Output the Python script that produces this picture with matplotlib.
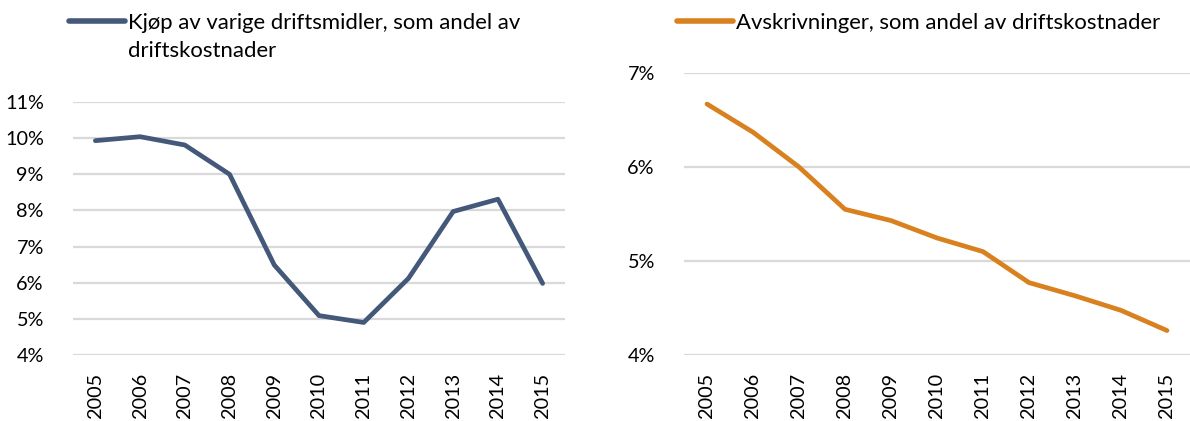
import numpy as np
import matplotlib.pyplot as plt
from matplotlib.lines import Line2D
from matplotlib.ticker import FuncFormatter

years = ['2005', '2006', '2007', '2008', '2009', '2010',
         '2011', '2012', '2013', '2014', '2015']

# percent
kjop = [9.93, 10.04, 9.81, 9.00, 6.49, 5.09, 4.90, 6.12, 7.97, 8.31, 5.98]
avskr = [6.67, 6.37, 6.00, 5.55, 5.43, 5.245, 5.10, 4.77, 4.63, 4.475, 4.26]

label_kjop = 'Kjøp av varige driftsmidler, som andel av\ndriftskostnader'
label_avskr = 'Avskrivninger, som andel av driftskostnader'

blue = '#44597A'
orange = '#D9801F'
grid_col = '#D9D9D9'

plt.rcParams['font.family'] = ['Lato', 'DejaVu Sans']
fs = 14.3
lfs = 15.9

W, H = 1190, 421
fig = plt.figure(figsize=(W / 100, H / 100), dpi=100)

def style(ax, ymin, ymax):
    ax.set_xlim(-0.5, len(years) - 0.5)
    ax.set_ylim(ymin, ymax)
    ax.set_yticks(np.arange(ymin, ymax + 0.5, 1))
    ax.yaxis.set_major_formatter(FuncFormatter(lambda v, p: '%d%%' % v))
    ax.set_xticks(range(len(years)))
    ax.set_xticklabels(years, rotation=90)
    ax.tick_params(axis='both', length=0, labelsize=fs, colors='black')
    ax.tick_params(axis='y', pad=21)
    ax.tick_params(axis='x', pad=13)
    ax.grid(axis='y', color=grid_col, linewidth=1.6)
    ax.set_axisbelow(True)
    for s in ax.spines.values():
        s.set_visible(False)

ax1 = fig.add_axes([73 / W, 66 / H, 492 / W, 253 / H])
ax1.plot(range(len(years)), kjop, color=blue, linewidth=3.4, solid_capstyle='round')
style(ax1, 4, 11)

ax2 = fig.add_axes([684 / W, 66 / H, 506 / W, 282 / H])
ax2.plot(range(len(years)), avskr, color=orange, linewidth=3.4, solid_capstyle='round')
style(ax2, 4, 7)

# legends drawn by hand so the handle sits on the first text line
def legend(x0, x1, color, label):
    fig.add_artist(Line2D([x0 / W, x1 / W], [1 - 21 / H, 1 - 21 / H],
                          color=color, linewidth=4, solid_capstyle='round'))
    for i, line in enumerate(label.split('\n')):
        fig.text((x1 + 3) / W, 1 - (29 + 28 * i) / H, line, fontsize=lfs,
                 va='baseline', ha='left')

legend(69, 125, blue, label_kjop)
legend(677, 733, orange, label_avskr)

fig.savefig('out.png', dpi=100)
